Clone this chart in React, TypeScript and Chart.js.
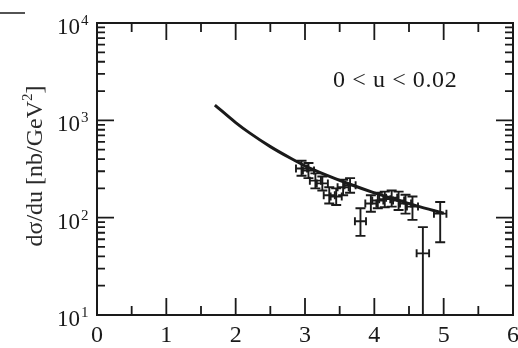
import { useEffect, useRef } from 'react';
import { Chart, registerables } from 'chart.js';

Chart.register(...registerables);

// Theory curve
const curveX = [1.7, 2.0, 2.2, 2.5, 2.8, 3.0, 3.3, 3.6, 4.0, 4.3, 4.6, 5.0];
const curveY = [1436, 948, 743, 537, 405, 341, 275, 227, 180, 154, 133, 111];

// Data points with error bars
const pointX = [2.95, 3.05, 3.15, 3.25, 3.35, 3.45, 3.55, 3.65, 3.8, 3.95, 4.05, 4.15, 4.25, 4.35, 4.45, 4.55, 4.7, 4.95];
const pointY = [320, 305, 240, 225, 170, 165, 205, 215, 92, 140, 150, 155, 160, 150, 140, 130, 43, 110];
const pointYLow = [270, 255, 200, 190, 140, 135, 170, 180, 65, 115, 125, 128, 130, 120, 110, 95, 5, 56];
const pointYHigh = [385, 365, 285, 265, 205, 200, 245, 255, 125, 170, 180, 185, 190, 185, 172, 165, 80, 145];
const pointXErr = [0.08, 0.08, 0.08, 0.08, 0.08, 0.08, 0.08, 0.08, 0.08, 0.08, 0.08, 0.08, 0.08, 0.08, 0.08, 0.08, 0.09, 0.09];

// Axes
const xMin = 0;
const xMax = 6;
const xMajorTicks = [0, 1, 2, 3, 4, 5, 6];
const xMinorTicks = [0.5, 1.5, 2.5, 3.5, 4.5, 5.5];
const yMin = 10;
const yMax = 10000;
const yExponents = [1, 2, 3, 4];
const yMinorFactors = [2, 3, 4, 5, 6, 7, 8, 9];

const rangeLabel = '0 < u < 0.02';
const yTitleMain = 'dσ/du [nb/GeV';
const yTitleSup = '2';
const yTitleEnd = ']';

const SERIF = "'Liberation Serif', 'Times New Roman', Times, serif";
const INK = '#1a1a1a';

const decorPlugin = {
  id: 'decor',
  afterDatasetsDraw(chart: any) {
    const { ctx, chartArea: a, scales } = chart;
    const xs = scales.x;
    const ys = scales.y;
    ctx.save();

    // error bars (clipped to the plot)
    ctx.save();
    ctx.beginPath();
    ctx.rect(a.left, a.top, a.right - a.left, a.bottom - a.top);
    ctx.clip();
    ctx.strokeStyle = INK;
    ctx.lineWidth = 1.9;
    for (let i = 0; i < pointX.length; i++) {
      const cx = xs.getPixelForValue(pointX[i]);
      const cy = ys.getPixelForValue(pointY[i]);
      const x0 = xs.getPixelForValue(pointX[i] - pointXErr[i]);
      const x1 = xs.getPixelForValue(pointX[i] + pointXErr[i]);
      const y0 = ys.getPixelForValue(pointYLow[i]);
      const y1 = ys.getPixelForValue(pointYHigh[i]);
      ctx.beginPath();
      ctx.moveTo(x0, cy); ctx.lineTo(x1, cy);
      ctx.moveTo(x0, cy - 4); ctx.lineTo(x0, cy + 4);
      ctx.moveTo(x1, cy - 4); ctx.lineTo(x1, cy + 4);
      ctx.moveTo(cx, y0); ctx.lineTo(cx, y1);
      ctx.moveTo(cx - 5, y0); ctx.lineTo(cx + 5, y0);
      ctx.moveTo(cx - 5, y1); ctx.lineTo(cx + 5, y1);
      ctx.stroke();
    }
    ctx.restore();

    // frame
    ctx.strokeStyle = INK;
    ctx.lineWidth = 2;
    ctx.strokeRect(a.left, a.top, a.right - a.left, a.bottom - a.top);

    // x ticks (bottom and top)
    ctx.lineWidth = 1.8;
    ctx.beginPath();
    for (const v of xMajorTicks) {
      const p = xs.getPixelForValue(v);
      ctx.moveTo(p, a.bottom); ctx.lineTo(p, a.bottom - 17);
      ctx.moveTo(p, a.top); ctx.lineTo(p, a.top + 17);
    }
    for (const v of xMinorTicks) {
      const p = xs.getPixelForValue(v);
      ctx.moveTo(p, a.bottom); ctx.lineTo(p, a.bottom - 9);
      ctx.moveTo(p, a.top); ctx.lineTo(p, a.top + 9);
    }
    // y ticks (left and right)
    for (const e of yExponents) {
      const base = Math.pow(10, e);
      const p = ys.getPixelForValue(base);
      ctx.moveTo(a.left, p); ctx.lineTo(a.left + 17, p);
      ctx.moveTo(a.right, p); ctx.lineTo(a.right - 17, p);
      if (base < yMax) {
        for (const f of yMinorFactors) {
          const q = ys.getPixelForValue(base * f);
          ctx.moveTo(a.left, q); ctx.lineTo(a.left + 8, q);
          ctx.moveTo(a.right, q); ctx.lineTo(a.right - 8, q);
        }
      }
    }
    ctx.stroke();

    // x tick labels
    ctx.fillStyle = INK;
    ctx.font = `24px ${SERIF}`;
    ctx.textAlign = 'center';
    ctx.textBaseline = 'alphabetic';
    for (const v of xMajorTicks) {
      ctx.fillText(String(v), xs.getPixelForValue(v), a.bottom + 27);
    }

    // y tick labels 10^n
    for (const e of yExponents) {
      const p = ys.getPixelForValue(Math.pow(10, e));
      ctx.font = `23px ${SERIF}`;
      ctx.textAlign = 'right';
      ctx.fillText('10', a.left - 17, p + 11);
      ctx.font = `15px ${SERIF}`;
      ctx.textAlign = 'left';
      ctx.fillText(String(e), a.left - 16, p + 2);
    }

    // annotation
    ctx.save();
    ctx.font = `24px ${SERIF}`;
    ctx.textAlign = 'left';
    try { (ctx as any).letterSpacing = '0.6px'; } catch (e) { /* ignore */ }
    ctx.fillText(rangeLabel, 333, 87);
    ctx.restore();

    // y title (rotated)
    ctx.save();
    ctx.translate(42, (a.top + a.bottom) / 2 - 3);
    ctx.rotate(-Math.PI / 2);
    ctx.font = `24px ${SERIF}`;
    const w1 = ctx.measureText(yTitleMain).width;
    ctx.font = `15px ${SERIF}`;
    const w2 = ctx.measureText(yTitleSup).width;
    ctx.font = `24px ${SERIF}`;
    const w3 = ctx.measureText(yTitleEnd).width;
    const total = w1 + w2 + w3;
    let x = -total / 2;
    ctx.textAlign = 'left';
    ctx.fillStyle = '#2a2a2a';
    ctx.fillText(yTitleMain, x, 0);
    x += w1;
    ctx.font = `15px ${SERIF}`;
    ctx.fillText(yTitleSup, x, -10);
    x += w2;
    ctx.font = `24px ${SERIF}`;
    ctx.fillText(yTitleEnd, x, 0);
    ctx.restore();

    // small dash at top-left corner
    ctx.lineWidth = 1.5;
    ctx.beginPath();
    ctx.moveTo(0, 13);
    ctx.lineTo(25, 13);
    ctx.stroke();

    ctx.restore();
  },
};

export default function App() {
  const ref = useRef<HTMLCanvasElement | null>(null);
  useEffect(() => {
    if (!ref.current) return;
    const chart = new Chart(ref.current, {
      type: 'scatter',
      data: {
        datasets: [
          {
            label: 'theory',
            data: curveX.map((x, i) => ({ x, y: curveY[i] })),
            showLine: true,
            borderColor: INK,
            borderWidth: 3,
            pointRadius: 0,
            cubicInterpolationMode: 'monotone',
          },
          {
            label: 'data',
            data: pointX.map((x, i) => ({ x, y: pointY[i] })),
            pointRadius: 0,
            showLine: false,
          },
        ],
      },
      options: {
        animation: false,
        responsive: false,
        devicePixelRatio: 1,
        layout: { padding: { left: 97, top: 23, right: 5, bottom: 33 } },
        plugins: { legend: { display: false }, tooltip: { enabled: false } },
        scales: {
          x: { type: 'linear', min: xMin, max: xMax, display: false },
          y: { type: 'logarithmic', min: yMin, max: yMax, display: false },
        },
      },
      plugins: [decorPlugin],
    });
    let alive = true;
    const redraw = () => { if (alive) chart.draw(); };
    const fonts = (document as any).fonts;
    if (fonts && fonts.load) {
      Promise.all([
        fonts.load("24px 'Liberation Serif'"),
        fonts.load("15px 'Liberation Serif'"),
      ]).then(redraw).catch(() => {});
    }
    const t1 = setTimeout(redraw, 100);
    return () => { alive = false; clearTimeout(t1); chart.destroy(); };
  }, []);
  return (
    <div style={{ position: 'absolute', left: 0, top: 0, width: 518, height: 348, background: '#fff' }}>
      <canvas ref={ref} width={518} height={348} />
    </div>
  );
}
